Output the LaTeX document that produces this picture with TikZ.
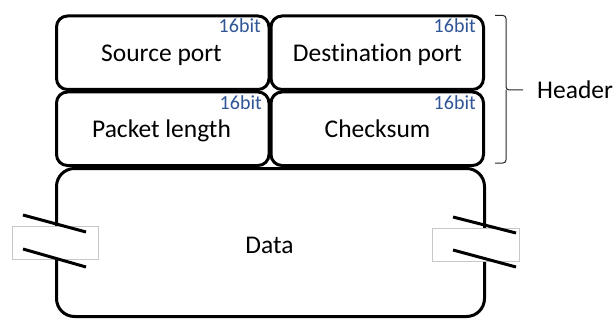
\documentclass[tikz,border=0pt]{standalone}
\usepackage{fontspec}
\setmainfont{Carlito}[Ligatures=NoCommon]
\begin{document}
\begin{tikzpicture}[x=1pt,y=-1pt,
  field/.style={draw=black,line width=3pt,rounded corners=11pt,minimum width=212.5pt,minimum height=73.5pt,inner sep=0pt,outer sep=0pt,anchor=north west},
  bigfield/.style={draw=black,line width=3pt,rounded corners=18pt,minimum width=428pt,minimum height=148pt,inner sep=0pt,outer sep=0pt,anchor=north west},
  lbl/.style={font=\fontsize{25.5}{28}\selectfont,inner sep=0pt,anchor=base},
  bits/.style={font=\fontsize{20}{22}\selectfont,text=bitblue,inner sep=0pt,anchor=base east},
  cutbox/.style={fill=white,draw=black!22,line width=0.8pt},
  slash/.style={line width=3pt},
  bracket/.style={line width=1pt,draw=black!85,rounded corners=3pt}]
\definecolor{bitblue}{HTML}{2F5597}
\useasboundingbox (0,0) rectangle (616,321);

% header fields
\node[field] (src) at (56.5,16) {};
\node[field] (dst) at (271,16) {};
\node[field] (len) at (56.5,92) {};
\node[field] (chk) at (271,92) {};
% payload
\node[bigfield] (data) at (56.5,168.5) {};

% field names
\node[lbl] (srct) at (161.5,62) {Source port};
\node[lbl] (dstt) at (377.5,62) {Destination port};
\node[lbl] (lent) at (161.5,137) {Packet length};
\node[lbl] (chkt) at (377.5,137) {Checksum};
\node[lbl] (datat) at (269.5,253) {Data};

% field sizes
\node[bits] (srcb) at (261,33) {16bit};
\node[bits] (dstb) at (476,33) {16bit};
\node[bits] (lenb) at (262,110) {16bit};
\node[bits] (chkb) at (476,110) {16bit};

% break marks on the payload sides
\draw[cutbox] (12,226) rectangle (98,259);
\draw[slash] (23,215) -- (86,232);
\draw[slash] (23,249) -- (86,267);
\draw[cutbox] (432,228) rectangle (519,261);
\draw[slash] (453,217) -- (516,233);
\draw[slash] (453,250) -- (516,267);

% header bracket
\coordinate (bt) at (495,15.5);
\coordinate (bb) at (495,163);
\coordinate (bm) at (523,90);
\draw[bracket] (bt) -- (506,15.5) -- (506,90) -- (bm);
\draw[bracket] (bb) -- (506,163) -- (506,90);
\node[lbl,anchor=base west] (hdr) at (537,99) {Header};
\end{tikzpicture}
\end{document}
